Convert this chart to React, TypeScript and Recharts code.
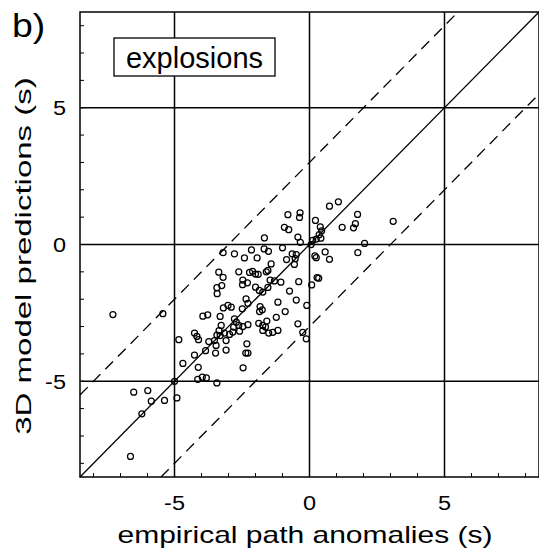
import React from "react";
import {
  ScatterChart,
  Scatter,
  XAxis,
  YAxis,
  ReferenceLine,
  ReferenceArea,
} from "recharts";

// empirical path anomalies (s)
const empiricalAnomalies = [
  0.74, 1.07, 1.78, 3.1, -0.8, -0.35, -0.37, -0.93, -0.77, 0.22,
  0.4, 0.45, 0.36, 0.42, 0.25, 0.12, 1.21, 1.63, 1.7, -1.67,
  -0.43, -0.34, 0.06, 2.04, -3.2, -2.78, -2.41, -2.15, -1.94, -1.68,
  -1.52, -1.0, -0.85, -0.64, -0.49, -0.53, -0.56, -1.42, 1.79, 0.2,
  0.25, 0.58, 0.74, -3.36, -3.2, -3.43, -3.25, -3.42, -2.62, -2.47,
  -2.48, -2.3, -2.22, -2.11, -2.0, -1.9, -1.6, -1.54, -1.46, -1.3,
  -1.06, -2.0, -1.86, -1.73, -1.54, -0.74, -0.4, 0.28, 0.34, 0.08,
  -3.19, -3.02, -2.9, -3.95, -3.77, -3.31, -2.49, -2.35, -2.28, -1.83,
  -1.75, -1.85, -1.17, -0.9, -0.49, -0.1, -2.78, -2.71, -2.81, -2.62,
  -2.47, -2.28, -1.88, -1.73, -1.58, -1.63, -1.73, -1.51, -1.36, -1.17,
  -1.23, -0.43, -0.25, -0.12, -3.27, -5.43, -7.28, -4.84, -4.26, -4.17,
  -4.11, -3.73, -3.52, -3.46, -3.31, -3.15, -2.96, -2.84, -2.59, -3.09,
  -2.32, -2.28, -2.36, -4.26, -3.85, -3.48, -3.09, -4.69, -4.12, -4.14,
  -3.97, -3.82, -3.43, -2.46, -5.0, -6.51, -5.99, -5.86, -5.37, -4.91,
  -6.21, -6.63, -3.43, -3.35,
];

// 3D model predictions (s)
const modelPredictions = [
  1.4, 1.56, 1.1, 0.85, 1.09, 1.16, 0.99, 0.63, 0.54, 0.88,
  0.64, 0.5, 0.36, 0.23, 0.2, 0.15, 0.63, 0.61, 0.76, 0.24,
  0.27, 0.08, 0.0, 0.04, -0.3, -0.34, -0.49, -0.2, -0.49, -0.16,
  -0.25, -0.12, -0.55, -0.34, -0.37, -0.52, -0.73, -0.71, -0.3, -0.42,
  -0.48, -0.27, -0.54, -1.01, -1.2, -1.58, -1.5, -1.8, -1.0, -1.3,
  -1.47, -1.4, -1.02, -0.98, -1.08, -1.09, -1.0, -0.95, -1.3, -1.33,
  -1.38, -1.56, -1.68, -1.74, -1.57, -1.7, -1.36, -1.21, -1.23, -1.48,
  -2.32, -2.23, -2.29, -2.62, -2.57, -2.63, -2.35, -1.99, -2.15, -2.27,
  -2.39, -2.45, -2.11, -2.45, -2.03, -2.23, -2.72, -2.84, -3.02, -2.96,
  -3.0, -2.93, -2.88, -2.96, -2.8, -3.02, -3.14, -3.24, -3.21, -3.14,
  -2.66, -2.9, -3.21, -3.45, -2.96, -2.53, -2.56, -3.48, -3.24, -3.36,
  -3.48, -3.55, -3.51, -3.69, -3.33, -3.24, -3.29, -3.2, -3.17, -3.51,
  -3.63, -3.97, -3.97, -4.04, -3.88, -3.97, -3.86, -4.35, -4.49, -4.93,
  -4.85, -4.88, -5.06, -4.51, -5.0, -5.4, -5.34, -5.73, -5.7, -5.61,
  -6.19, -7.75, -3.31, -3.15,
];

const axisTicks = [-8, -7, -6, -5, -4, -3, -2, -1, 0, 1, 2, 3, 4, 5, 6, 7, 8];
const labelledTicks = [-5, 0, 5];
const gridValues = [-5, 0, 5];
const axisDomain = [-8.5, 8.5];
const bandOffset = 3;

const data = empiricalAnomalies.map((x, i) => ({ x, y: modelPredictions[i] }));

const FONT = "'Liberation Sans', Arial, Helvetica, sans-serif";

const BottomTick = (props: any) => {
  const { x, y, payload } = props;
  const v = payload.value;
  return (
    <g>
      <line x1={x} y1={y} x2={x} y2={y - 4} stroke="#000" strokeWidth={1} />
      {labelledTicks.includes(v) && (
        <text
          transform={`translate(${x},${y + 33}) scale(1.12,1)`}
          textAnchor="middle"
          fontSize={21}
          fontFamily={FONT}
          fill="#000"
        >
          {String(v)}
        </text>
      )}
    </g>
  );
};

const TopTick = (props: any) => {
  const { x, y } = props;
  return <line x1={x} y1={y} x2={x} y2={y + 4} stroke="#000" strokeWidth={1} />;
};

const LeftTick = (props: any) => {
  const { x, y, payload } = props;
  const v = payload.value;
  return (
    <g>
      <line x1={x} y1={y} x2={x + 4} y2={y} stroke="#000" strokeWidth={1} />
      {labelledTicks.includes(v) && (
        <text
          transform={`translate(${x - 14},${y + 7.5}) scale(1.12,1)`}
          textAnchor="end"
          fontSize={21}
          fontFamily={FONT}
          fill="#000"
        >
          {String(v)}
        </text>
      )}
    </g>
  );
};

const Dot = (props: any) => {
  const { cx, cy } = props;
  return <circle cx={cx} cy={cy} r={3} fill="none" stroke="#000" strokeWidth={1.25} />;
};

export default function App() {
  const [lo, hi] = axisDomain;
  return (
    <div style={{ position: "absolute", left: 0, top: 0, width: 539, height: 550, overflow: "hidden", background: "#fff" }}>
      <ScatterChart width={539} height={550} margin={{ top: 12, right: 0, bottom: 0, left: 0 }}>
        <XAxis
          type="number"
          dataKey="x"
          domain={axisDomain}
          ticks={axisTicks}
          interval={0}
          allowDataOverflow
          height={73}
          axisLine={false}
          tickLine={false}
          tickSize={0}
          tickMargin={0}
          tick={<BottomTick />}
        />
        <XAxis
          xAxisId="top"
          orientation="top"
          type="number"
          domain={axisDomain}
          ticks={axisTicks}
          interval={0}
          allowDataOverflow
          height={0}
          axisLine={false}
          tickLine={false}
          tickSize={0}
          tickMargin={0}
          tick={<TopTick />}
        />
        <YAxis
          type="number"
          dataKey="y"
          domain={axisDomain}
          ticks={axisTicks}
          interval={0}
          allowDataOverflow
          width={80}
          axisLine={false}
          tickLine={false}
          tickSize={0}
          tickMargin={0}
          tick={<LeftTick />}
        />
        {gridValues.map((v) => (
          <ReferenceLine key={"vx" + v} x={v} stroke="#000" strokeWidth={1.5} />
        ))}
        {gridValues.map((v) => (
          <ReferenceLine key={"hy" + v} y={v} stroke="#000" strokeWidth={1.5} />
        ))}
        <ReferenceLine
          segment={[{ x: lo, y: lo }, { x: hi, y: hi }]}
          stroke="#000"
          strokeWidth={1.3}
          ifOverflow="visible"
        />
        <ReferenceLine
          segment={[{ x: lo, y: lo + bandOffset }, { x: hi - bandOffset, y: hi }]}
          stroke="#000"
          strokeWidth={1.3}
          strokeDasharray="11 7"
          ifOverflow="visible"
        />
        <ReferenceLine
          segment={[{ x: lo + bandOffset, y: lo }, { x: hi, y: hi - bandOffset }]}
          stroke="#000"
          strokeWidth={1.3}
          strokeDasharray="11 7"
          ifOverflow="visible"
        />
        <ReferenceArea
          x1={lo}
          x2={hi}
          y1={lo}
          y2={hi}
          fill="none"
          stroke="#000"
          strokeWidth={1.5}
          ifOverflow="visible"
        />
        <Scatter data={data} shape={<Dot />} isAnimationActive={false} />
      </ScatterChart>
      <svg
        width={539}
        height={550}
        style={{ position: "absolute", left: 0, top: 0, pointerEvents: "none" }}
      >
        <text transform="translate(12,37) scale(1.1,1)" fontSize={34} fontFamily={FONT} fill="#000">
          b)
        </text>
        <rect x={114} y={38} width={161} height={38} fill="#fff" stroke="#000" strokeWidth={1.3} />
        <text x={194.5} y={68} textAnchor="middle" fontSize={29} fontFamily={FONT} fill="#000">
          explosions
        </text>
        <text
          transform="translate(305,543) scale(1.25,1)"
          textAnchor="middle"
          fontSize={24}
          fontFamily={FONT}
          fill="#000"
        >
          empirical path anomalies (s)
        </text>
        <text
          transform="translate(31,256) rotate(-90) scale(1.5,1)"
          textAnchor="middle"
          fontSize={22}
          fontFamily={FONT}
          fill="#000"
        >
          3D model predictions (s)
        </text>
      </svg>
    </div>
  );
}
